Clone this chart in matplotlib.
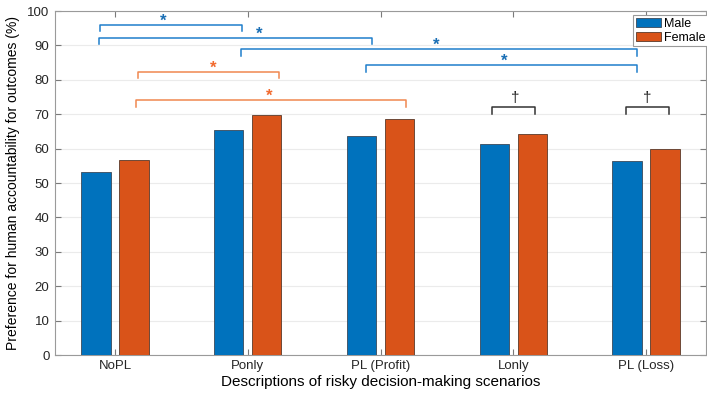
import numpy as np
import matplotlib.pyplot as plt

plt.rcParams['font.family'] = ['Liberation Sans', 'DejaVu Sans']

categories = ['NoPL', 'Ponly', 'PL (Profit)', 'Lonly', 'PL (Loss)']
male = [53.1, 65.4, 63.6, 61.4, 56.5]
female = [56.7, 69.8, 68.7, 64.2, 59.8]

# significance brackets: left end, right end, height, marker x, marker, group
br_left = [0.887, 0.882, 1.949, 2.891, 1.173, 1.156, 3.838, 4.849]
br_right = [1.957, 2.936, 4.932, 4.932, 2.235, 3.192, 4.165, 5.173]
br_y = [96.0, 92.2, 88.9, 84.3, 82.4, 74.1, 72.1, 72.1]
br_mark_x = [1.362, 2.085, 3.418, 3.930, 1.738, 2.160, 4.012, 5.008]
br_mark = ['*', '*', '*', '*', '*', '*', '\u2020', '\u2020']
br_kind = ['m', 'm', 'm', 'm', 'f', 'f', 'k', 'k']

blue = '#0072BD'
orange = '#D95319'
line_col = {'m': '#1f7fcb', 'f': '#f08850', 'k': '#333333'}
mark_col = {'m': '#1a6fb5', 'f': '#f26a2e', 'k': '#222222'}

fig = plt.figure(figsize=(7.07, 3.93), dpi=100)
ax = fig.add_axes([55 / 707, 38 / 393, 651 / 707, 344 / 393])

x = np.arange(1, len(categories) + 1)
w = 0.22
ax.bar(x - 0.143, male, w, color=blue, edgecolor='#3a4a5a', linewidth=0.6, label='Male', zorder=3)
ax.bar(x + 0.143, female, w, color=orange, edgecolor='#5a3a2a', linewidth=0.6, label='Female', zorder=3)

for l, r, y, mx, s, k in zip(br_left, br_right, br_y, br_mark_x, br_mark, br_kind):
    ax.plot([l, l, r, r], [y - 1.9, y, y, y - 1.9], color=line_col[k], lw=1.1, zorder=4)
    if s == '*':
        ax.text(mx, y + 1.0, '*', color=mark_col[k], ha='center', va='center',
                fontsize=12, fontweight='bold', zorder=5)
    else:
        ax.text(mx, y + 0.6, s, color=mark_col[k], ha='center', va='bottom',
                fontsize=11, zorder=5)

ax.set_xlim(0.548, 5.452)
ax.set_ylim(0, 100)
ax.set_yticks(np.arange(0, 101, 10))
ax.set_xticks(x)
ax.set_xticklabels(categories, fontsize=9.5)
ax.tick_params(axis='y', labelsize=9.5, pad=4)
ax.tick_params(direction='in', top=True, right=True, colors='#7a7a7a', length=4,
               labelcolor='#262626')
for sp in ax.spines.values():
    sp.set_color('#9a9a9a')
ax.grid(axis='y', color='#ebebeb', lw=0.8, zorder=0)
ax.set_axisbelow(True)

ax.set_xlabel('Descriptions of risky decision-making scenarios', fontsize=11, labelpad=2)
ax.set_ylabel('Preference for human accountability for outcomes (%)', fontsize=10, labelpad=5)

leg = ax.legend(loc='upper left', bbox_to_anchor=(633 / 707, 1 - 15 / 393),
                bbox_transform=fig.transFigure, fontsize=9, fancybox=False,
                framealpha=1, edgecolor='#9a9a9a', borderpad=0.2, handlelength=2.0,
                handleheight=0.8, handletextpad=0.3, labelspacing=0.15, borderaxespad=0)
leg.get_frame().set_linewidth(0.8)

fig.savefig('out.png', dpi=100)
